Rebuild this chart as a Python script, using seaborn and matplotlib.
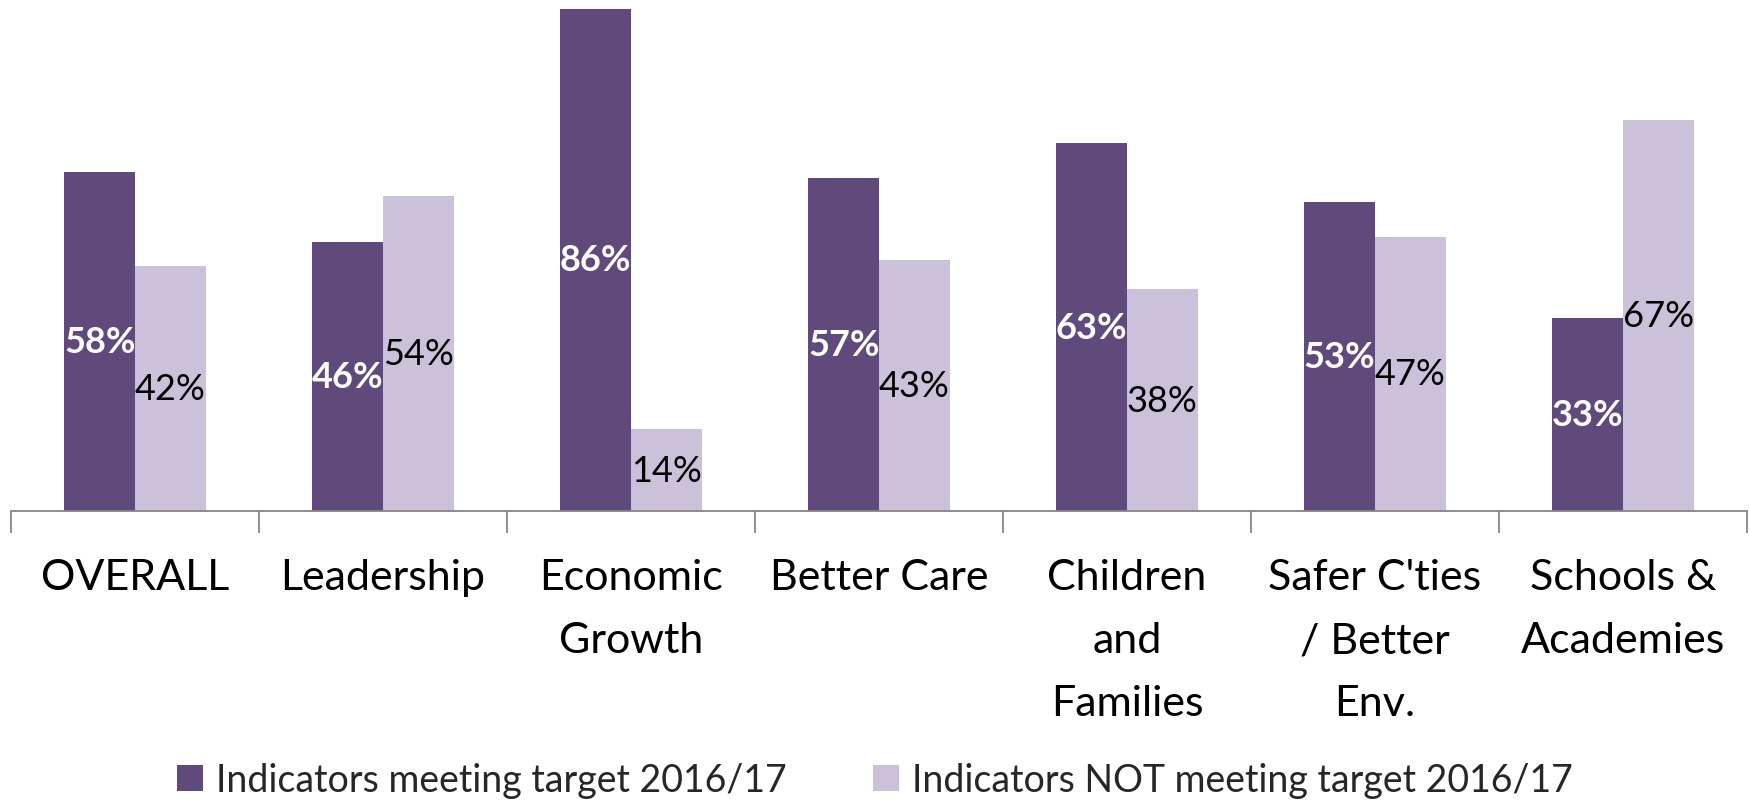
import matplotlib
matplotlib.use("Agg")
import matplotlib.pyplot as plt
import seaborn as sns
import pandas as pd
import numpy as np

categories = ["OVERALL", "Leadership", "Economic\nGrowth", "Better Care",
              "Children\nand\nFamilies", "Safer C'ties\n/ Better\nEnv.",
              "Schools &\nAcademies"]
series_names = ["Indicators meeting target 2016/17",
                "Indicators NOT meeting target 2016/17"]
meeting = [58, 46, 86, 57, 63, 53, 33]
not_meeting = [42, 54, 14, 43, 38, 47, 67]
colors = ["#604A7B", "#CCC1DA"]

sns.set_theme(style="white")
plt.rcParams["font.family"] = ["Lato", "DejaVu Sans"]

df = pd.DataFrame({
    "category": categories * 2,
    "series": [series_names[0]] * len(categories) + [series_names[1]] * len(categories),
    "value": meeting + not_meeting,
})

fig = plt.figure(figsize=(17.5, 8.04), dpi=100)
ax = fig.add_axes([11 / 1750, (804 - 512) / 804, (1747 - 11) / 1750, 512 / 804])

sns.barplot(data=df, x="category", y="value", hue="series", order=categories,
            hue_order=series_names, palette=colors, width=0.57, gap=0,
            saturation=1, linewidth=0, ax=ax, legend=True)

ax.set_ylim(0, 87.7)
ax.set_xlim(-0.5, len(categories) - 0.5)
ax.set_xlabel("")
ax.set_ylabel("")
ax.set_yticks([])

for side in ["top", "right", "left"]:
    ax.spines[side].set_visible(False)
ax.spines["bottom"].set_color("#868686")
ax.spines["bottom"].set_linewidth(1.3)

# value labels centred in each bar
label_styles = [dict(color="white", fontweight="bold"), dict(color="black")]
for container, style in zip(ax.containers, label_styles):
    ax.bar_label(container, labels=[f"{v:.0f}%" for v in container.datavalues],
                 label_type="center", fontsize=26, **style)

# category separators as minor ticks, labels on the major positions
ax.set_xticks(np.arange(len(categories)))
ax.set_xticklabels(categories, fontsize=31, linespacing=1.8, color="black")
ax.set_xticks(np.arange(-0.5, len(categories)), minor=True)
ax.tick_params(axis="x", which="major", length=0, pad=34)
ax.tick_params(axis="x", which="minor", length=16, width=1.3, color="#868686",
               direction="out", bottom=True)

handles, labels = ax.get_legend_handles_labels()
ax.get_legend().remove()
fig.legend(handles, labels, loc="center", bbox_to_anchor=(0.5, 1 - 781 / 804),
           ncol=2, frameon=False, fontsize=27, handlelength=0.7, handleheight=0.7,
           handletextpad=0.35, columnspacing=2.3)

fig.savefig("out.png", dpi=100, facecolor="white")
